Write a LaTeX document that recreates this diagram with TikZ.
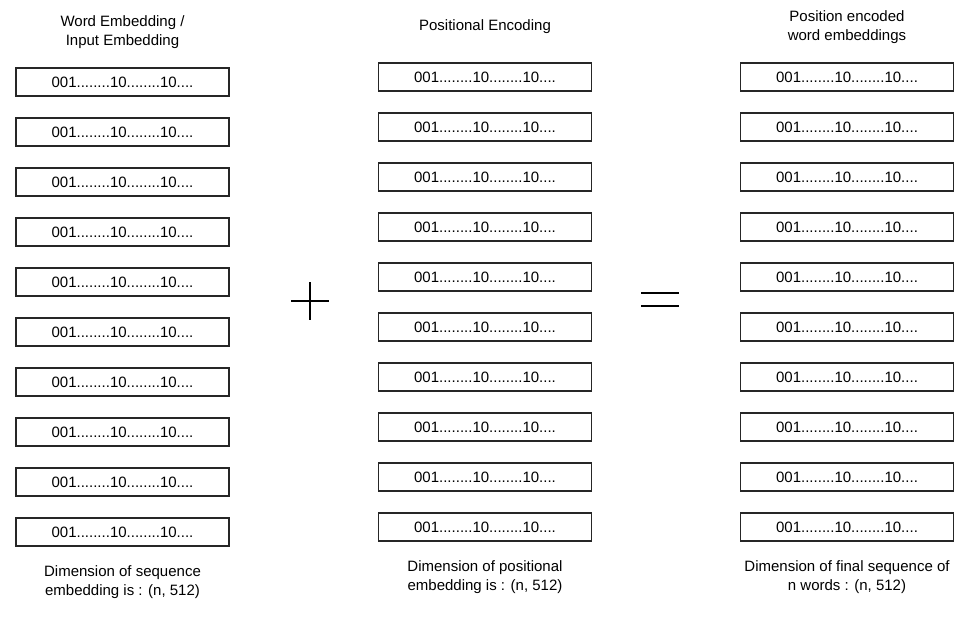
\documentclass[tikz,border=0pt]{standalone}
\usepackage{fontspec}
\setmainfont{Liberation Sans}
\begin{document}
\begin{tikzpicture}[x=1pt,y=-1pt,
  vecbox/.style={draw=black!85,line width=1.1pt,minimum width=213pt,minimum height=28pt,inner sep=0pt,font=\fontsize{15}{17}\selectfont},
  lbl/.style={align=center,font=\fontsize{15}{18.5}\selectfont,inner sep=0pt},
  sym/.style={line width=2pt,black}]
\useasboundingbox (0,0) rectangle (971,628);
\foreach \i in {0,...,9}{
  \node[vecbox] (a\i) at (122.5,{82+50*\i}) {001........10........10....};
  \node[vecbox] (b\i) at (485,{77+50*\i}) {001........10........10....};
  \node[vecbox] (c\i) at (847,{77+50*\i}) {001........10........10....};
}
\node[lbl] (ta) at (122.5,32) {Word Embedding /\\Input Embedding};
\node[lbl] (tb) at (485,27) {Positional Encoding};
\node[lbl] (tc) at (847,27) {Position encoded\\word embeddings};
\node[lbl] (da) at (122.5,582) {Dimension of sequence\\embedding is : (n, 512)};
\node[lbl] (db) at (485,577) {Dimension of positional\\embedding is : (n, 512)};
\node[lbl] (dc) at (847,577) {Dimension of final sequence of\\n words : (n, 512)};
\coordinate (p1) at (291,301); \coordinate (p2) at (329,301);
\coordinate (p3) at (310,282); \coordinate (p4) at (310,320);
\draw[sym] (p1) -- (p2); \draw[sym] (p3) -- (p4);
\coordinate (e1) at (641,293); \coordinate (e2) at (679,293);
\coordinate (e3) at (641,306); \coordinate (e4) at (679,306);
\draw[sym] (e1) -- (e2); \draw[sym] (e3) -- (e4);
\end{tikzpicture}
\end{document}
